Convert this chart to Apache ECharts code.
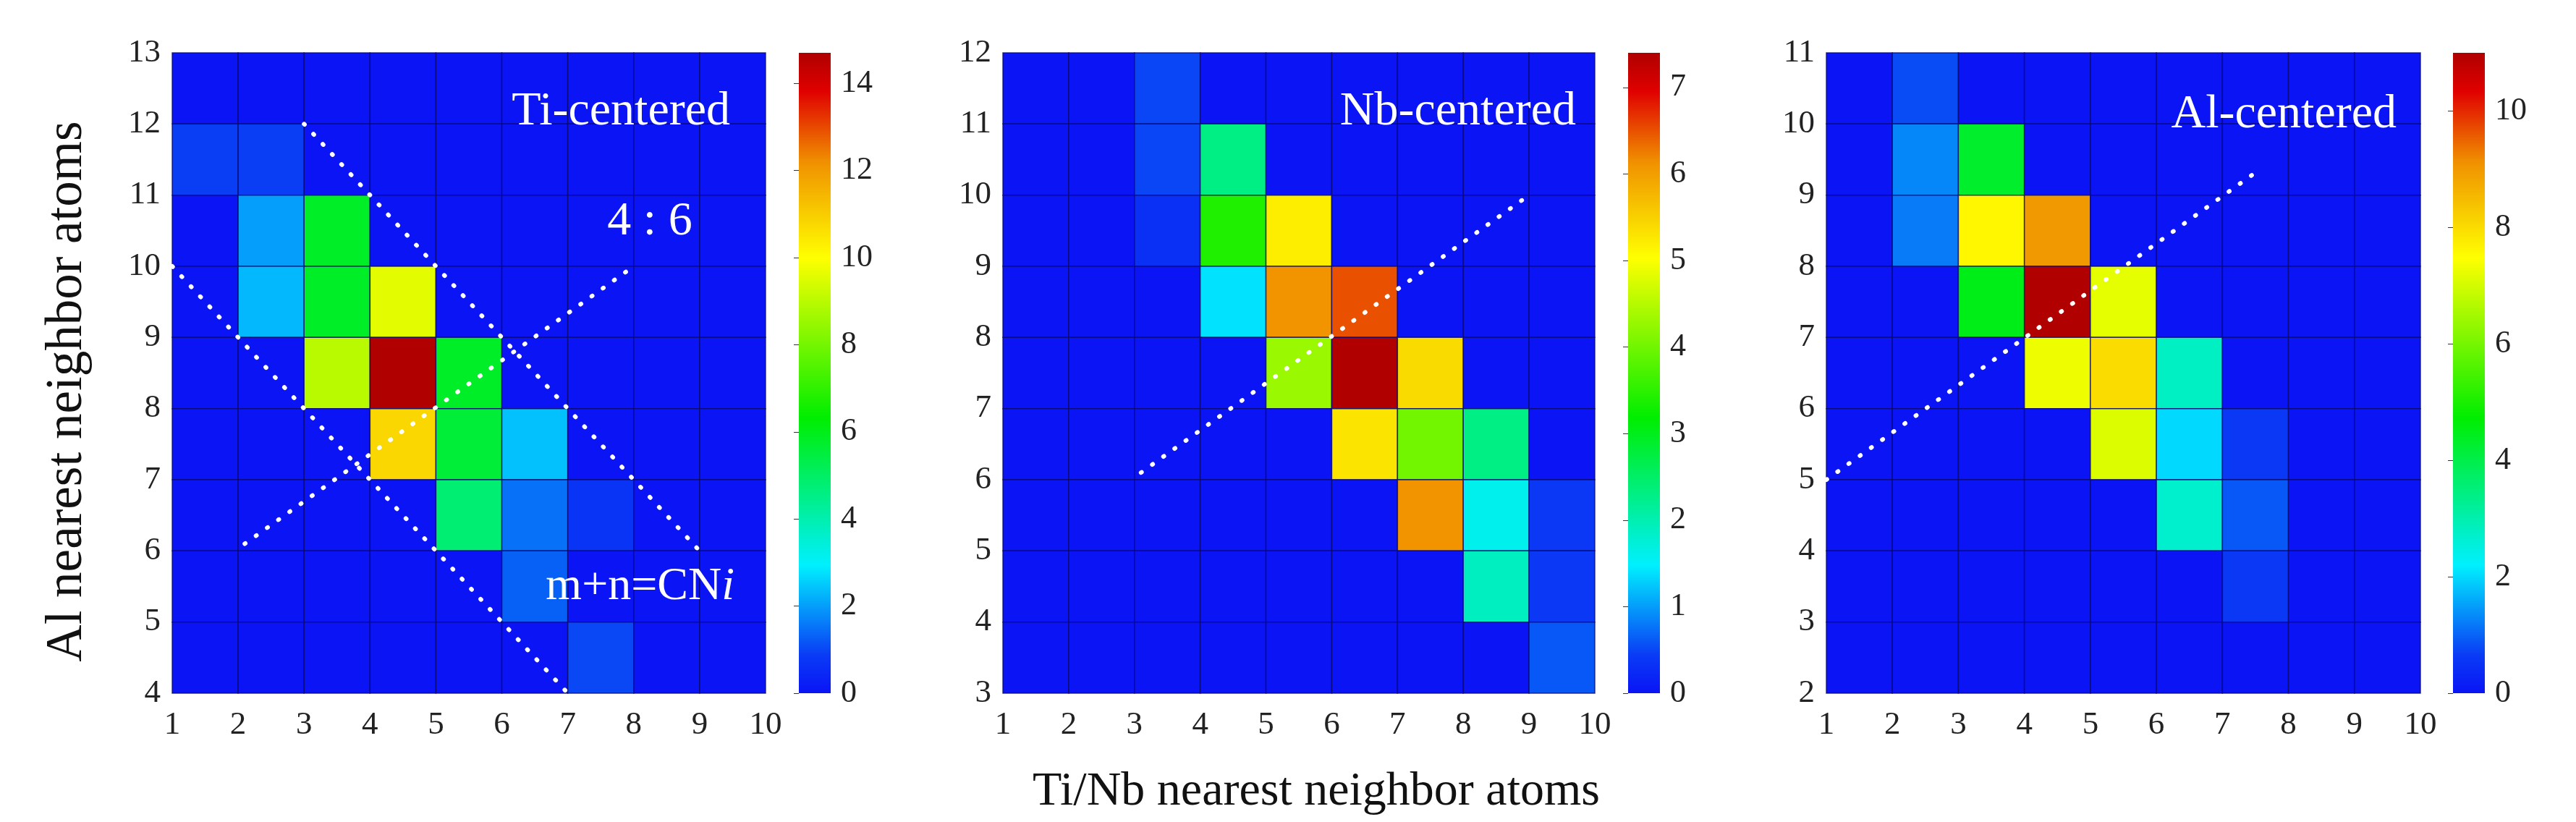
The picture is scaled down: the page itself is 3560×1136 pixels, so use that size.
<!DOCTYPE html>
<html><head><meta charset="utf-8">
<script src="https://cdn.jsdelivr.net/npm/echarts@6/dist/echarts.min.js"></script>
<style>html,body{margin:0;padding:0;background:#fff}#c{width:3560px;height:1136px}</style>
</head><body><div id="c"></div>
<script>
// rows listed from top (highest y) to bottom; columns x = 1..9 (cell left edges)
const xCells = [1,2,3,4,5,6,7,8,9];
const tiY = [12,11,10,9,8,7,6,5,4];
const tiVals = [
 [0,0,0,0,0,0,0,0,0],
 [0.9,0.9,0,0,0,0,0,0,0],
 [0,2.0,5.8,0,0,0,0,0,0],
 [0,2.3,5.8,9.6,0,0,0,0,0],
 [0,0,9.0,14.7,5.8,0,0,0,0],
 [0,0,0,10.8,5.6,2.4,0,0,0],
 [0,0,0,0,4.8,1.5,0.7,0,0],
 [0,0,0,0,0,1.3,0,0,0],
 [0,0,0,0,0,0,1.0,0,0]
];
const nbY = [11,10,9,8,7,6,5,4,3];
const nbVals = [
 [0,0,0.5,0,0,0,0,0,0],
 [0,0,0.5,2.3,0,0,0,0,0],
 [0,0,0.3,3.4,5.2,0,0,0,0],
 [0,0,0,1.4,6.1,6.5,0,0,0],
 [0,0,0,0,4.3,7.4,5.4,0,0],
 [0,0,0,0,0,5.3,4.0,2.3,0],
 [0,0,0,0,0,0,6.1,1.6,0.4],
 [0,0,0,0,0,0,0,1.9,0.4],
 [0,0,0,0,0,0,0,0,0.6]
];
const alY = [10,9,8,7,6,5,4,3,2];
const alVals = [
 [0,0.8,0,0,0,0,0,0,0],
 [0,1.3,4.3,0,0,0,0,0,0],
 [0,1.2,7.6,9.0,0,0,0,0,0],
 [0,0,4.5,11,7.2,0,0,0,0],
 [0,0,0,7.3,8.0,2.8,0,0,0],
 [0,0,0,0,7.1,2.0,0.6,0,0],
 [0,0,0,0,0,2.7,0.9,0,0],
 [0,0,0,0,0,0,0.6,0,0],
 [0,0,0,0,0,0,0,0,0]
];
const tiMax = 14.7, nbMax = 7.4, alMax = 11;
const tiBarTicks = 2, nbBarTicks = 1, alBarTicks = 2;
const tiLineA = [[1,10],[7,4]], tiLineB = [[3,12],[9,6]], tiRatio = [[2.1,6.1],[8,10]];
const nbRatio = [[3.1,6.1],[9,10]];
const alRatio = [[1,5],[7.55,9.35]];

const stops = [[0,'#0a14f5'],[0.06,'#0a3cf5'],[0.2,'#00f0ff'],[0.43,'#00ee00'],[0.68,'#ffff00'],[0.83,'#f09000'],[0.94,'#e00000'],[1,'#b00000']];
const serif = 'Liberation Serif';

function toData(ys, vals){ const d=[]; ys.forEach((y,r)=>xCells.forEach((x,c)=>d.push([x,y,vals[r][c]]))); return d; }
function sampleStops(n){const cols=[];
  for(let k=0;k<n;k++){const t=k/(n-1);let j=0;while(j<stops.length-2&&t>stops[j+1][0])j++;
    const [t0,c0]=stops[j],[t1,c1]=stops[j+1];const f=Math.max(0,Math.min(1,(t-t0)/(t1-t0)));
    const h=s=>[1,3,5].map(q=>parseInt(s.substr(q,2),16));const A=h(c0),B=h(c1);
    cols.push('rgb('+A.map((x,q)=>Math.round(x+(B[q]-x)*f)).join(',')+')');}
  return cols;}

const panels = [
 {left:238,width:820,ymin:4,ymax:13,ys:tiY,vals:tiVals,max:tiMax,bar:1104,step:tiBarTicks,lines:[tiLineA,tiLineB,tiRatio]},
 {left:1386,width:818,ymin:3,ymax:12,ys:nbY,vals:nbVals,max:nbMax,bar:2250,step:nbBarTicks,lines:[nbRatio]},
 {left:2524,width:821,ymin:2,ymax:11,ys:alY,vals:alVals,max:alMax,bar:3390,step:alBarTicks,lines:[alRatio]}
];
const gTop=73, gH=885;
const grid=[],xAxis=[],yAxis=[],series=[],visualMap=[];
const cmap=sampleStops(121);
panels.forEach((p,i)=>{
  const g=i*2;
  grid.push({left:p.left,top:gTop,width:p.width,height:gH});
  grid.push({left:p.bar,top:gTop,width:44,height:gH});
  xAxis.push({gridIndex:g,type:'value',min:1,max:10,interval:1,axisLine:{show:false},axisTick:{show:false},splitLine:{show:false},
    axisLabel:{fontFamily:serif,fontSize:45,color:'#222',margin:22}});
  xAxis.push({gridIndex:g+1,type:'value',min:0,max:1,show:false});
  yAxis.push({gridIndex:g,type:'value',min:p.ymin,max:p.ymax,interval:1,axisLine:{show:false},axisTick:{show:false},splitLine:{show:false},
    axisLabel:{fontFamily:serif,fontSize:45,color:'#222',margin:16}});
  yAxis.push({gridIndex:g+1,type:'value',min:0,max:p.max,interval:p.step,position:'right',axisLine:{show:false},
    axisTick:{show:true,inside:true,length:7,lineStyle:{color:'#333'}},splitLine:{show:false},
    axisLabel:{fontFamily:serif,fontSize:44,color:'#222',margin:14,showMaxLabel:false}});
  const si=series.length;
  series.push({type:'custom',xAxisIndex:g,yAxisIndex:g,data:toData(p.ys,p.vals),
    renderItem:(params,api)=>{const a=api.coord([api.value(0),api.value(1)+1]),b=api.coord([api.value(0)+1,api.value(1)]);
      return {type:'rect',shape:{x:a[0],y:a[1],width:b[0]-a[0],height:b[1]-a[1]},style:{fill:api.visual('color'),stroke:'rgba(10,10,110,0.8)',lineWidth:1.5}};}});
  visualMap.push({type:'continuous',show:false,seriesIndex:si,dimension:2,min:0,max:p.max,inRange:{color:cmap}});
  series.push({type:'custom',xAxisIndex:g+1,yAxisIndex:g+1,data:[[0,p.max]],
    renderItem:(params,api)=>{const a=api.coord([0,api.value(1)]),b=api.coord([1,api.value(0)]);
      return {type:'rect',shape:{x:a[0],y:a[1],width:b[0]-a[0],height:b[1]-a[1]},
        style:{fill:new echarts.graphic.LinearGradient(0,1,0,0,stops.map(s=>({offset:s[0],color:s[1]})))}};}});
  p.lines.forEach(l=>series.push({type:'line',xAxisIndex:g,yAxisIndex:g,data:l,symbol:'none',silent:true,z:5,
    lineStyle:{color:'#fff',width:6,type:[1,18],cap:'round'}}));
});
const chart=echarts.init(document.getElementById('c'));
const txt=(x,y,text,size,align,extra)=>Object.assign({type:'text',z:100,x,y,style:{text,fill:'#fff',font:size+'px "Liberation Serif"',textAlign:align,textVerticalAlign:'middle'}},extra||{});
const tMN={type:'text',z:100,x:1015,y:811,style:{fill:'#fff',textAlign:'right',textVerticalAlign:'middle',
  rich:{a:{fontSize:64,fontFamily:serif,fill:'#fff'},b:{fontSize:64,fontFamily:serif,fontStyle:'italic',fill:'#fff'}},text:'{a|m+n=CN}{b|i}'}};
chart.setOption({animation:false,grid,xAxis,yAxis,series,visualMap,
 graphic:[
  txt(1009,155,'Ti-centered',66,'right'),
  txt(898,307,'4 : 6',66,'center'),
  tMN,
  txt(2178,155,'Nb-centered',66,'right'),
  txt(3312,159,'Al-centered',66,'right'),
  txt(1819,1095,'',66,'center',{style:{text:'Ti/Nb nearest neighbor atoms',fill:'#111',font:'66px "Liberation Serif"',textAlign:'center',textVerticalAlign:'middle'}}),
  txt(93,541,'',71,'center',{rotation:Math.PI/2,style:{text:'Al nearest neighbor atoms',fill:'#111',font:'71px "Liberation Serif"',textAlign:'center',textVerticalAlign:'middle'}})
 ]});
</script></body></html>
